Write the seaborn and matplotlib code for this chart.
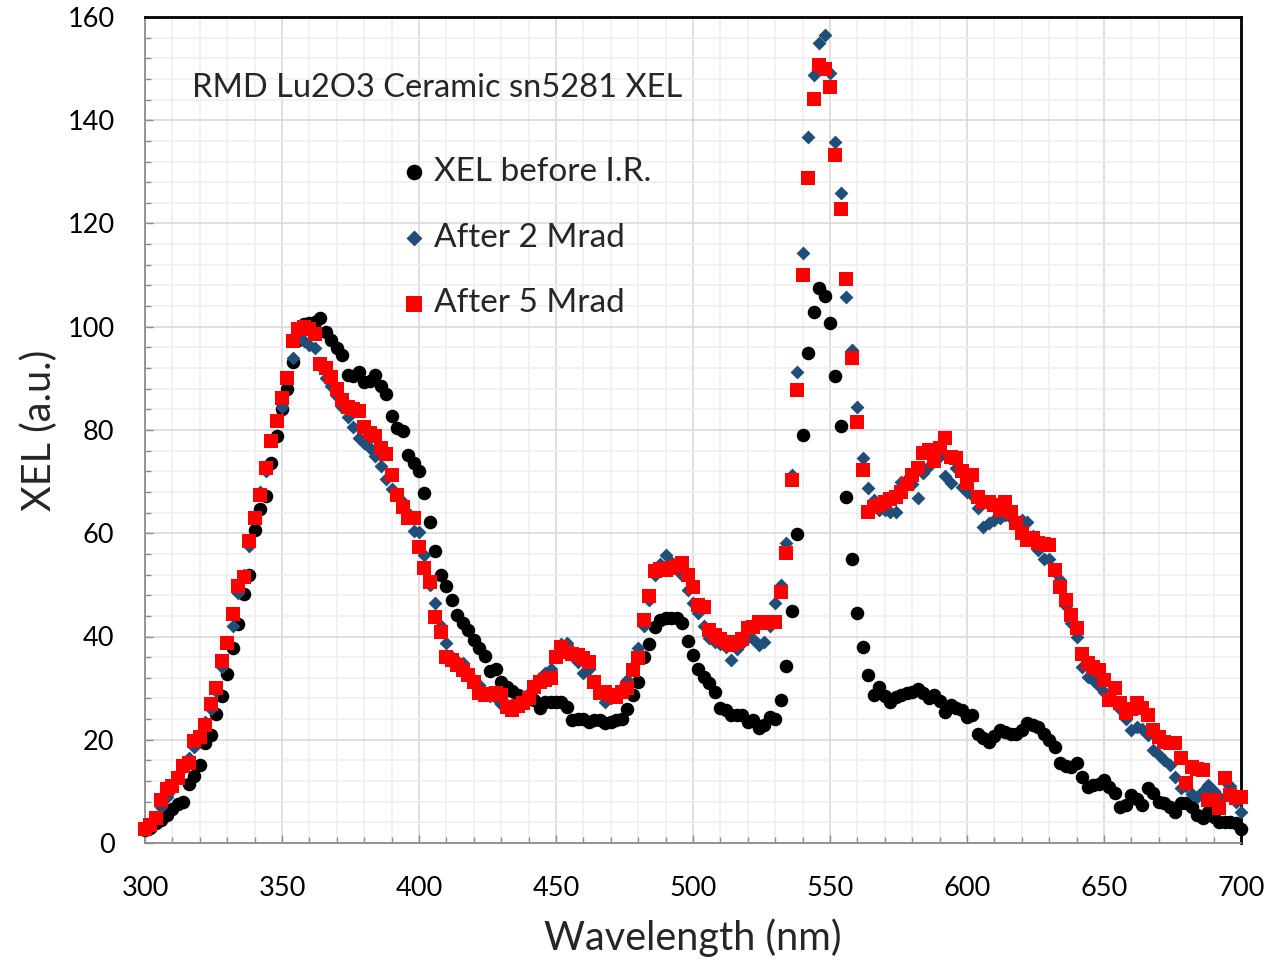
import numpy as np
import pandas as pd
import matplotlib
matplotlib.use("Agg")
import matplotlib.pyplot as plt
import seaborn as sns
from matplotlib.ticker import MultipleLocator

# ---------------- data ----------------
wavelength = np.arange(300, 701, 2)

xel_before = [
    2.5, 3.0, 3.8, 4.5, 5.5, 6.5, 7.5, 8.0, 11.4, 13.0,
    15.2, 19.4, 21.0, 24.9, 28.4, 32.8, 37.7, 42.4, 48.3, 52.0,
    60.6, 64.7, 67.3, 73.7, 78.9, 84.0, 88.0, 93.1, 97.5, 100.5,
    100.8, 101.0, 101.7, 99.0, 97.5, 95.8, 94.5, 90.7, 90.5, 91.3,
    89.3, 89.5, 90.7, 88.6, 86.9, 82.7, 80.3, 79.9, 75.1, 73.7,
    72.0, 67.8, 62.2, 56.6, 51.9, 49.8, 47.1, 44.2, 42.6, 41.3,
    39.3, 37.7, 36.2, 33.4, 33.8, 31.2, 30.3, 29.5, 28.7, 28.2,
    27.9, 27.7, 26.1, 27.4, 27.4, 27.4, 27.4, 26.4, 23.8, 24.1,
    24.0, 23.5, 23.8, 23.8, 23.3, 23.5, 23.8, 24.1, 25.9, 28.7,
    31.2, 36.1, 38.5, 41.9, 43.2, 43.5, 43.5, 43.5, 42.6, 39.2,
    36.5, 33.8, 32.2, 30.9, 29.3, 26.1, 25.8, 24.8, 24.8, 24.8,
    23.5, 23.8, 22.2, 22.9, 24.5, 24.1, 27.7, 34.2, 45.0, 59.9,
    79.0, 94.9, 102.9, 107.6, 106.0, 100.7, 90.5, 80.8, 67.1, 55.1,
    44.5, 38.0, 32.5, 28.7, 30.3, 28.5, 27.4, 28.2, 28.7, 29.0,
    29.2, 29.9, 29.0, 28.0, 28.7, 27.5, 25.4, 26.7, 26.2, 25.8,
    24.5, 24.8, 21.2, 20.3, 19.6, 20.8, 21.9, 21.5, 21.2, 21.2,
    21.9, 23.2, 22.8, 22.5, 21.2, 20.0, 18.6, 15.4, 15.0, 14.8,
    15.4, 12.8, 10.9, 11.2, 11.5, 12.2, 10.9, 9.6, 7.0, 7.4,
    9.3, 8.6, 7.4, 10.6, 9.6, 8.0, 7.7, 6.9, 6.1, 7.7,
    7.7, 7.0, 5.5, 4.8, 6.1, 5.0, 4.1, 4.1, 4.1, 3.9,
    2.8,
]

after_2mrad = [
    2.5, 3.5, 5.0, 7.0, 9.0, 10.5, 12.5, 14.5, 16.5, 18.5,
    21.0, 23.5, 26.0, 29.5, 34.0, 39.0, 42.0, 48.5, 52.0, 57.5,
    63.0, 68.0, 72.0, 78.0, 82.0, 84.5, 90.3, 94.0, 98.0, 97.2,
    96.5, 95.8, 92.4, 90.0, 88.6, 86.5, 84.5, 82.5, 80.6, 78.5,
    77.5, 76.5, 75.0, 73.0, 70.5, 68.5, 67.5, 66.0, 64.0, 60.5,
    60.3, 55.8, 50.0, 46.4, 42.0, 38.7, 36.0, 35.2, 34.8, 33.0,
    31.5, 30.6, 29.0, 28.5, 28.0, 27.0, 26.7, 26.0, 26.7, 27.5,
    29.0, 30.5, 32.0, 32.9, 33.8, 36.5, 38.5, 38.7, 37.0, 35.0,
    32.9, 33.8, 31.0, 29.0, 27.4, 28.0, 29.0, 30.0, 31.5, 34.0,
    37.7, 42.0, 47.1, 52.0, 54.0, 55.8, 54.5, 53.0, 52.0, 49.0,
    46.5, 44.5, 42.0, 39.7, 39.0, 38.5, 38.0, 35.4, 37.5, 38.8,
    40.0, 39.5, 38.4, 39.0, 42.0, 46.4, 50.0, 58.2, 71.3, 91.3,
    114.2, 136.7, 148.8, 154.9, 156.5, 149.1, 135.8, 126.0, 105.8, 95.5,
    84.5, 74.5, 68.7, 66.4, 64.5, 64.5, 64.2, 64.2, 70.0, 70.5,
    69.5, 66.8, 71.6, 73.0, 75.5, 75.0, 71.0, 69.7, 72.6, 69.0,
    68.0, 67.4, 64.8, 61.3, 61.9, 62.6, 63.0, 63.5, 63.0, 62.2,
    62.5, 62.2, 59.5, 56.8, 55.1, 55.0, 52.5, 50.9, 46.0, 42.6,
    40.0, 34.0, 32.2, 31.6, 30.5, 29.3, 28.5, 27.5, 26.0, 24.0,
    21.9, 22.5, 22.0, 20.9, 18.0, 17.0, 16.0, 15.1, 12.8, 10.6,
    11.0, 9.5, 9.0, 10.0, 11.2, 10.0, 9.0, 12.0, 11.0, 8.0,
    6.1,
]

after_5mrad = [
    2.8, 3.5, 4.9, 8.3, 10.4, 11.0, 12.5, 14.9, 15.5, 19.8,
    20.5, 22.9, 27.0, 30.1, 35.3, 38.8, 44.3, 49.8, 51.6, 58.5,
    63.0, 67.5, 72.7, 77.9, 81.7, 86.2, 90.0, 97.2, 99.6, 100.0,
    99.5, 98.6, 92.7, 92.0, 90.3, 88.0, 85.8, 84.5, 84.0, 83.7,
    80.6, 79.5, 78.9, 76.5, 75.4, 71.3, 67.5, 65.0, 63.0, 63.0,
    57.4, 53.2, 50.6, 43.8, 40.9, 36.1, 35.4, 34.5, 33.5, 32.5,
    31.2, 29.0, 28.7, 28.8, 29.0, 28.7, 26.4, 25.8, 26.5, 27.1,
    28.0, 30.3, 31.2, 31.5, 31.9, 36.1, 38.0, 37.0, 36.7, 36.4,
    35.8, 35.1, 31.2, 29.0, 29.3, 28.6, 28.3, 29.3, 30.0, 33.5,
    35.8, 43.2, 47.8, 52.6, 53.0, 52.9, 53.2, 53.6, 54.2, 51.9,
    49.6, 46.1, 45.8, 41.3, 40.3, 39.5, 39.0, 38.4, 39.0, 39.5,
    41.6, 41.9, 42.9, 42.6, 42.9, 42.9, 48.7, 56.2, 70.4, 87.7,
    110.0, 128.9, 144.2, 150.7, 150.0, 146.5, 133.3, 122.9, 109.2, 93.9,
    81.6, 72.3, 64.2, 65.0, 65.5, 66.0, 66.6, 67.1, 68.0, 69.5,
    71.3, 72.6, 75.5, 76.1, 73.9, 76.5, 78.4, 74.8, 74.5, 72.0,
    69.7, 71.3, 67.1, 66.1, 66.1, 65.5, 64.5, 66.1, 64.2, 62.0,
    60.0, 58.7, 59.0, 58.2, 58.0, 57.7, 52.9, 49.6, 47.1, 44.2,
    41.6, 36.7, 34.8, 34.0, 33.5, 31.6, 27.7, 30.0, 27.1, 25.1,
    26.0, 27.1, 26.1, 24.8, 21.9, 20.6, 19.5, 19.3, 19.3, 16.4,
    11.6, 14.8, 14.4, 14.1, 8.3, 8.3, 6.7, 12.5, 9.3, 8.8,
    9.0,
]

series_labels = ["XEL before I.R.", "After 2 Mrad", "After 5 Mrad"]
title_text = "RMD Lu2O3 Ceramic sn5281 XEL"
x_label = "Wavelength (nm)"
y_label = "XEL (a.u.)"

# ---------------- style ----------------
sns.set_theme(style="white")
plt.rcParams["font.family"] = ["Lato", "DejaVu Sans"]

W, H = 1274, 960
fig = plt.figure(figsize=(W / 100, H / 100), dpi=100)
ax = fig.add_axes([145 / W, 1 - 843 / H, (1241 - 145) / W, (843 - 17) / H])

sns.scatterplot(x=wavelength, y=xel_before, marker="o", s=95, color="black",
                linewidth=0, ax=ax, label=series_labels[0], zorder=3, clip_on=False)
sns.scatterplot(x=wavelength, y=after_2mrad, marker="D", s=50, color="#1f4e79",
                linewidth=0, ax=ax, label=series_labels[1], zorder=4, clip_on=False)
sns.scatterplot(x=wavelength, y=after_5mrad, marker="s", s=110, color="#ff0000",
                linewidth=0, ax=ax, label=series_labels[2], zorder=5, clip_on=False)

ax.set_xlim(300, 700)
ax.set_ylim(0, 160)
ax.xaxis.set_major_locator(MultipleLocator(50))
ax.xaxis.set_minor_locator(MultipleLocator(10))
ax.yaxis.set_major_locator(MultipleLocator(20))
ax.yaxis.set_minor_locator(MultipleLocator(4))

ax.grid(which="major", color="#d9d9d9", linewidth=1.2)
ax.grid(which="minor", color="#efefef", linewidth=1.2)
ax.set_axisbelow(True)

for side in ["left", "bottom"]:
    ax.spines[side].set_color("#8c8c8c")
    ax.spines[side].set_linewidth(1.3)
for side in ["top", "right"]:
    ax.spines[side].set_color("black")
    ax.spines[side].set_linewidth(2.0)

ax.tick_params(which="both", direction="in", color="#8c8c8c", width=1.0,
               bottom=True, left=True, top=False, right=False)
ax.tick_params(which="major", length=6, labelsize=19.5, labelcolor="black")
ax.tick_params(which="minor", length=4)
ax.tick_params(axis="y", which="major", pad=22)
ax.tick_params(axis="x", which="major", pad=24)

ax.set_xlabel(x_label, fontsize=28.5, labelpad=12)
ax.set_ylabel(y_label, fontsize=28.5, labelpad=7)

fig.text(192 / W, 1 - 88 / H, title_text, fontsize=23.5, ha="left", va="center")

fs = 24
leg = ax.legend(loc="upper left", bbox_to_anchor=(400 / W, 1 - 157 / H),
                bbox_transform=fig.transFigure, frameon=False, fontsize=fs,
                handlelength=0.85, handletextpad=0.18, labelspacing=1.07,
                borderpad=0, borderaxespad=0, markerscale=1.15)

fig.savefig("out.png", dpi=100)
